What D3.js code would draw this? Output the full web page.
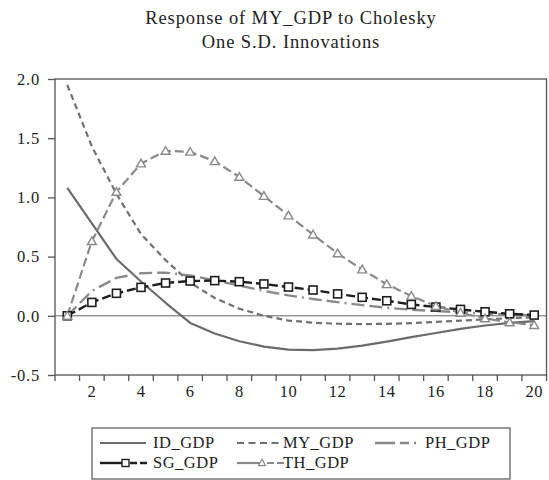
<!DOCTYPE html>
<html>
<head>
<meta charset="utf-8">
<script src="https://cdn.jsdelivr.net/npm/d3@7"></script>
<style>
  html, body { margin: 0; padding: 0; background: #fff; }
  svg { display: block; }
  svg text { font-family: "Liberation Serif", "DejaVu Serif", "Times New Roman", serif; }
</style>
</head>
<body>
<svg id="chart" width="549" height="480"></svg>
<script>
// Impulse response horizons (periods 1..20)
const periods = d3.range(1, 21);

// Response of MY_GDP to one S.D. shocks in each country's GDP
const idGdp = [1.08, 0.78, 0.48, 0.29, 0.11, -0.06, -0.15, -0.215, -0.26, -0.285,
               -0.29, -0.278, -0.252, -0.218, -0.18, -0.145, -0.11, -0.082, -0.06, -0.045];
const myGdp = [1.95, 1.43, 1.03, 0.69, 0.47, 0.28, 0.15, 0.06, 0.0, -0.04,
               -0.058, -0.067, -0.07, -0.068, -0.062, -0.052, -0.041, -0.03, -0.02, -0.012];
const phGdp = [0.0, 0.21, 0.32, 0.36, 0.365, 0.34, 0.3, 0.255, 0.21, 0.172,
               0.142, 0.115, 0.09, 0.068, 0.052, 0.04, 0.03, 0.02, 0.011, 0.004];
const sgGdp = [0.0, 0.113, 0.19, 0.24, 0.277, 0.294, 0.297, 0.288, 0.269, 0.243,
               0.218, 0.185, 0.156, 0.127, 0.096, 0.074, 0.054, 0.034, 0.017, 0.006];
const thGdp = [0.0, 0.63, 1.046, 1.286, 1.393, 1.385, 1.305, 1.173, 1.012, 0.847,
               0.686, 0.527, 0.391, 0.266, 0.167, 0.082, 0.025, -0.022, -0.056, -0.079];

const seriesNames = ["ID_GDP", "MY_GDP", "PH_GDP", "SG_GDP", "TH_GDP"];
const xTickLabels = ["2", "4", "6", "8", "10", "12", "14", "16", "18", "20"];
const yTickValues = [-0.5, 0.0, 0.5, 1.0, 1.5, 2.0];
const yTickLabels = ["-0.5", "0.0", "0.5", "1.0", "1.5", "2.0"];
const titleLines = ["Response of MY_GDP to Cholesky", "One S.D. Innovations"];

const FONT = "'Liberation Serif', 'DejaVu Serif', 'Times New Roman', serif";

const svg = d3.select("#chart");
const plot = { left: 55, right: 546.5, top: 79, bottom: 375 };

const x = d3.scaleBand().domain(periods).range([plot.left, plot.right]).paddingInner(0).paddingOuter(0);
const xc = d => x(d) + x.bandwidth() / 2;
const y = d3.scaleLinear().domain([-0.5, 2.0]).range([plot.bottom, plot.top]);

const styles = [
  { data: idGdp, color: "#6b6b6b", width: 2.2, dash: null, marker: null },
  { data: myGdp, color: "#707070", width: 2.2, dash: "6,4", marker: null },
  { data: phGdp, color: "#8a8a8a", width: 2.4, dash: "13,5,13,5,2,5", marker: null },
  { data: sgGdp, color: "#1e1e1e", width: 2.4, dash: "9,4", marker: "square" },
  { data: thGdp, color: "#8a8a8a", width: 2.2, dash: "9,4", marker: "triangle" }
];

// Titles
svg.selectAll("text.title").data(titleLines).join("text")
  .attr("class", "title")
  .attr("x", 291).attr("y", (d, i) => 24 + i * 24)
  .attr("text-anchor", "middle")
  .attr("font-family", FONT)
  .attr("font-size", 18.5)
  .attr("letter-spacing", 0.9)
  .attr("fill", "#222")
  .text(d => d);

// Frame
svg.append("rect")
  .attr("x", plot.left).attr("y", plot.top)
  .attr("width", plot.right - plot.left).attr("height", plot.bottom - plot.top)
  .attr("fill", "none").attr("stroke", "#555").attr("stroke-width", 1.3);

// Zero reference line
svg.append("line")
  .attr("x1", plot.left).attr("x2", plot.right)
  .attr("y1", y(0)).attr("y2", y(0))
  .attr("stroke", "#666").attr("stroke-width", 1);

// Y axis
const yAxis = d3.axisLeft(y)
  .tickValues(yTickValues)
  .tickSize(7)
  .tickPadding(8)
  .tickFormat((d, i) => yTickLabels[i]);
const gy = svg.append("g").attr("transform", `translate(${plot.left},0)`).call(yAxis)
  .attr("font-family", FONT);
gy.select(".domain").remove();
gy.selectAll(".tick line").attr("stroke", "#555").attr("stroke-width", 1.3);
gy.selectAll(".tick text").attr("font-size", 16.5).attr("fill", "#222")
  .attr("letter-spacing", 0.8)
  .attr("font-family", FONT);

// X axis: ticks on band edges, labels on even periods
const edges = periods.map(p => x(p)).concat([plot.right]);
svg.append("g").selectAll("line").data(edges).join("line")
  .attr("x1", d => d).attr("x2", d => d)
  .attr("y1", plot.bottom).attr("y2", plot.bottom + 6)
  .attr("stroke", "#555").attr("stroke-width", 1.3);
svg.append("g").selectAll("text").data(xTickLabels).join("text")
  .attr("x", d => xc(+d)).attr("y", plot.bottom + 22)
  .attr("text-anchor", "middle")
  .attr("font-family", FONT)
  .attr("font-size", 16.5).attr("letter-spacing", 0.5).attr("fill", "#222")
  .text(d => d);

// Series lines
const line = d3.line().x((d, i) => xc(periods[i])).y(d => y(d));
const gLines = svg.append("g");
styles.forEach(s => {
  gLines.append("path")
    .attr("d", line(s.data))
    .attr("fill", "none")
    .attr("stroke", s.color)
    .attr("stroke-width", s.width)
    .attr("stroke-dasharray", s.dash)
    .attr("stroke-linejoin", "round");
});

// Markers
const tri = d3.symbol().type(d3.symbolTriangle).size(34);
styles.forEach(s => {
  if (s.marker === "square") {
    svg.append("g").selectAll("rect").data(s.data).join("rect")
      .attr("x", (d, i) => xc(periods[i]) - 4).attr("y", d => y(d) - 4)
      .attr("width", 8).attr("height", 8)
      .attr("fill", "#fff").attr("stroke", s.color).attr("stroke-width", 1.6);
  } else if (s.marker === "triangle") {
    svg.append("g").selectAll("path").data(s.data).join("path")
      .attr("d", tri)
      .attr("transform", (d, i) => `translate(${xc(periods[i])},${y(d) + 0.8})`)
      .attr("fill", "#fff").attr("stroke", s.color).attr("stroke-width", 1.4);
  }
});

// Legend
const legend = svg.append("g");
legend.append("rect")
  .attr("x", 92).attr("y", 428).attr("width", 418).attr("height", 51)
  .attr("fill", "#fff").attr("stroke", "#555").attr("stroke-width", 1.2);

const legendPos = [
  { sx: 100, tx: 153, ty: 448 },
  { sx: 237, tx: 283, ty: 448 },
  { sx: 375, tx: 425, ty: 448 },
  { sx: 100, tx: 153, ty: 468 },
  { sx: 237, tx: 283, ty: 468 }
];
const sampleLen = 48;
styles.forEach((s, k) => {
  const p = legendPos[k];
  const ly = p.ty - 5;
  if (s.marker) {
    // solid lead-in, marker, then the series dash
    legend.append("line")
      .attr("x1", p.sx).attr("x2", p.sx + 20).attr("y1", ly).attr("y2", ly)
      .attr("stroke", s.color).attr("stroke-width", s.width);
    legend.append("line")
      .attr("x1", p.sx + 20).attr("x2", p.sx + sampleLen).attr("y1", ly).attr("y2", ly)
      .attr("stroke", s.color).attr("stroke-width", s.width)
      .attr("stroke-dasharray", "7,3");
    if (s.marker === "square") {
      legend.append("rect")
        .attr("x", p.sx + 22).attr("y", ly - 3.5).attr("width", 7).attr("height", 7)
        .attr("fill", "#fff").attr("stroke", s.color).attr("stroke-width", 1.4);
    } else {
      legend.append("path")
        .attr("d", d3.symbol().type(d3.symbolTriangle).size(22))
        .attr("transform", `translate(${p.sx + 25},${ly + 0.5})`)
        .attr("fill", "#fff").attr("stroke", s.color).attr("stroke-width", 1.2);
    }
  } else {
    legend.append("line")
      .attr("x1", p.sx).attr("x2", p.sx + (k === 1 ? 43 : 46)).attr("y1", ly).attr("y2", ly)
      .attr("stroke", s.color).attr("stroke-width", s.width)
      .attr("stroke-dasharray", k === 1 ? "7,4.5" : (k === 2 ? "20,5,9,5,2,5" : null));
  }
  legend.append("text")
    .attr("x", p.tx).attr("y", p.ty)
    .attr("font-family", FONT)
    .attr("font-size", 16.5).attr("letter-spacing", 0.5).attr("fill", "#222")
    .text(seriesNames[k]);
});
</script>
</body>
</html>
